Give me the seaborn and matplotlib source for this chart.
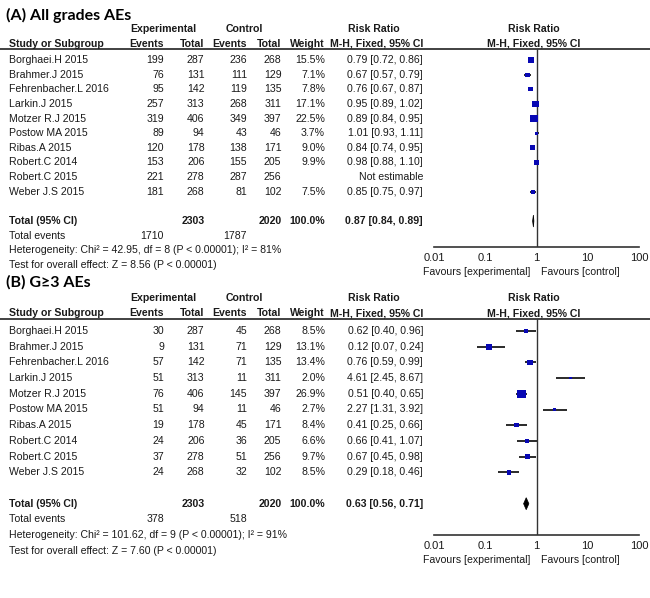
import numpy as np
import pandas as pd
import matplotlib
matplotlib.use('Agg')
import matplotlib.pyplot as plt
from matplotlib.lines import Line2D
import seaborn as sns

# ---- data ----
studies = ['Borghaei.H 2015', 'Brahmer.J 2015', 'Fehrenbacher.L 2016', 'Larkin.J 2015',
           'Motzer R.J 2015', 'Postow MA 2015', 'Ribas.A 2015', 'Robert.C 2014',
           'Robert.C 2015', 'Weber J.S 2015']
exp_total = [287, 131, 142, 313, 406, 94, 178, 206, 278, 268]
ctl_total = [268, 129, 135, 311, 397, 46, 171, 205, 256, 102]

# (A) all grades AEs
a_exp_events = [199, 76, 95, 257, 319, 89, 120, 153, 221, 181]
a_ctl_events = [236, 111, 119, 268, 349, 43, 138, 155, 287, 81]
a_weight = [15.5, 7.1, 7.8, 17.1, 22.5, 3.7, 9.0, 9.9, np.nan, 7.5]
a_rr = [0.79, 0.67, 0.76, 0.95, 0.89, 1.01, 0.84, 0.98, np.nan, 0.85]
a_lo = [0.72, 0.57, 0.67, 0.89, 0.84, 0.93, 0.74, 0.88, np.nan, 0.75]
a_hi = [0.86, 0.79, 0.87, 1.02, 0.95, 1.11, 0.95, 1.10, np.nan, 0.97]
a_total = [2303, 2020]
a_events = [1710, 1787]
a_pooled = [0.87, 0.84, 0.89]
a_het = 'Heterogeneity: Chi\u00b2 = 42.95, df = 8 (P < 0.00001); I\u00b2 = 81%'
a_test = 'Test for overall effect: Z = 8.56 (P < 0.00001)'

# (B) grade >= 3 AEs
b_exp_events = [30, 9, 57, 51, 76, 51, 19, 24, 37, 24]
b_ctl_events = [45, 71, 71, 11, 145, 11, 45, 36, 51, 32]
b_weight = [8.5, 13.1, 13.4, 2.0, 26.9, 2.7, 8.4, 6.6, 9.7, 8.5]
b_rr = [0.62, 0.12, 0.76, 4.61, 0.51, 2.27, 0.41, 0.66, 0.67, 0.29]
b_lo = [0.40, 0.07, 0.59, 2.45, 0.40, 1.31, 0.25, 0.41, 0.45, 0.18]
b_hi = [0.96, 0.24, 0.99, 8.67, 0.65, 3.92, 0.66, 1.07, 0.98, 0.46]
b_total = [2303, 2020]
b_events = [378, 518]
b_pooled = [0.63, 0.56, 0.71]
b_het = 'Heterogeneity: Chi\u00b2 = 101.62, df = 9 (P < 0.00001); I\u00b2 = 91%'
b_test = 'Test for overall effect: Z = 7.60 (P < 0.00001)'

tick_vals = [0.01, 0.1, 1, 10, 100]
tick_labels = ['0.01', '0.1', '1', '10', '100']

sns.set_style('white')
plt.rcParams['font.family'] = ['Liberation Sans', 'DejaVu Sans']

W, H = 650, 598
TXT = '#1a1a1a'
FS = 7.6


def fx(x):
    return x / W


def fy(y):
    return 1 - y / H


def draw_panel(fig, title, exp_ev, ctl_ev, weight, rr, lo, hi, totals, events, pooled,
               het, test, title_y, h1, h2, line_y, row0, step, axis_y):
    kw = dict(fontsize=FS, color=TXT, va='center')
    bold = dict(kw, fontweight='bold')
    fig.text(fx(6), fy(title_y), title, fontsize=11.5, fontweight='bold',
             family=['Lato', 'DejaVu Sans'], color='black', va='center')

    # headers
    fig.text(fx(163), fy(h1), 'Experimental', ha='center', **bold)
    fig.text(fx(244.5), fy(h1), 'Control', ha='center', **bold)
    fig.text(fx(374), fy(h1), 'Risk Ratio', ha='center', **bold)
    fig.text(fx(534), fy(h1), 'Risk Ratio', ha='center', **bold)
    fig.text(fx(9), fy(h2), 'Study or Subgroup', ha='left', **bold)
    for xr, lab in zip([164, 204.5, 247, 281.5, 325, 423],
                       ['Events', 'Total', 'Events', 'Total', 'Weight', 'M-H, Fixed, 95% CI']):
        fig.text(fx(xr), fy(h2), lab, ha='right', **bold)
    fig.text(fx(534), fy(h2), 'M-H, Fixed, 95% CI', ha='center', **bold)
    fig.add_artist(Line2D([0, 1], [fy(line_y), fy(line_y)], color='#333333', lw=1.3))

    # study rows
    for i, s in enumerate(studies):
        y = fy(row0 + step * i)
        fig.text(fx(9), y, s, ha='left', **kw)
        fig.text(fx(164), y, str(exp_ev[i]), ha='right', **kw)
        fig.text(fx(204.5), y, str(exp_total[i]), ha='right', **kw)
        fig.text(fx(247), y, str(ctl_ev[i]), ha='right', **kw)
        fig.text(fx(281.5), y, str(ctl_total[i]), ha='right', **kw)
        if np.isnan(rr[i]):
            fig.text(fx(423), y, 'Not estimable', ha='right', **kw)
        else:
            fig.text(fx(325), y, f'{weight[i]:.1f}%', ha='right', **kw)
            fig.text(fx(423), y, f'{rr[i]:.2f} [{lo[i]:.2f}, {hi[i]:.2f}]', ha='right', **kw)

    # totals
    y = fy(row0 + step * 11)
    fig.text(fx(9), y, 'Total (95% CI)', ha='left', **bold)
    fig.text(fx(204.5), y, str(totals[0]), ha='right', **bold)
    fig.text(fx(281.5), y, str(totals[1]), ha='right', **bold)
    fig.text(fx(325), y, '100.0%', ha='right', **bold)
    fig.text(fx(423), y, f'{pooled[0]:.2f} [{pooled[1]:.2f}, {pooled[2]:.2f}]', ha='right', **bold)
    y = fy(row0 + step * 12)
    fig.text(fx(9), y, 'Total events', ha='left', **kw)
    fig.text(fx(164), y, str(events[0]), ha='right', **kw)
    fig.text(fx(247), y, str(events[1]), ha='right', **kw)
    fig.text(fx(9), fy(row0 + step * 13), het, ha='left', **kw)
    fig.text(fx(9), fy(row0 + step * 14), test, ha='left', **kw)

    # forest plot
    ax = fig.add_axes([fx(434), fy(axis_y), (639 - 434) / W, (axis_y - line_y) / H])
    df = pd.DataFrame({'row': np.arange(len(studies)), 'rr': rr, 'lo': lo, 'hi': hi,
                       'weight': weight}).dropna()
    ax.hlines(df['row'], df['lo'], df['hi'], color='#2a2a2a', lw=1.4)
    wmin, wmax = df['weight'].min(), df['weight'].max()
    sns.scatterplot(data=df, x='rr', y='row', size='weight', sizes=(1.3 * wmin, 1.3 * wmax),
                    size_norm=(wmin, wmax), marker='s', color='#0808b4', edgecolor='none',
                    legend=False, ax=ax, zorder=3)
    d = 6 / step
    ax.fill([pooled[1], pooled[0], pooled[2], pooled[0]], [11, 11 - d, 11, 11 + d],
            color='black', lw=0.5, zorder=3)
    ax.axvline(1, color='#333333', lw=1)
    ax.set_xscale('log')
    ax.set_xlim(0.01, 100)
    ax.set_ylim((axis_y - row0) / step, (line_y - row0) / step)
    for sp in ['top', 'right', 'left']:
        ax.spines[sp].set_visible(False)
    ax.spines['bottom'].set_color('#333333')
    ax.spines['bottom'].set_linewidth(1.2)
    ax.set_xticks(tick_vals)
    ax.set_xticklabels(tick_labels)
    ax.minorticks_off()
    ax.set_yticks([])
    ax.tick_params(axis='x', direction='in', length=6, width=1.2, color='#333333',
                   pad=4, labelsize=8, labelcolor=TXT)
    ax.set_xlabel('')
    ax.set_ylabel('')
    ax.patch.set_alpha(0)
    fig.text(fx(530), fy(axis_y + 25), 'Favours [experimental]', ha='right', fontsize=FS,
             color=TXT, va='center')
    fig.text(fx(541), fy(axis_y + 25), 'Favours [control]', ha='left', fontsize=FS,
             color=TXT, va='center')


fig = plt.figure(figsize=(6.5, 5.98), dpi=100)
draw_panel(fig, '(A) All grades AEs', a_exp_events, a_ctl_events, a_weight, a_rr, a_lo, a_hi,
           a_total, a_events, a_pooled, a_het, a_test,
           title_y=15, h1=29, h2=44, line_y=49, row0=60, step=14.64, axis_y=247)
draw_panel(fig, '(B) G\u22653 AEs', b_exp_events, b_ctl_events, b_weight, b_rr, b_lo, b_hi,
           b_total, b_events, b_pooled, b_het, b_test,
           title_y=282, h1=298, h2=313, line_y=319, row0=331, step=15.7, axis_y=535)

fig.savefig('out.png', dpi=100, facecolor='white')
